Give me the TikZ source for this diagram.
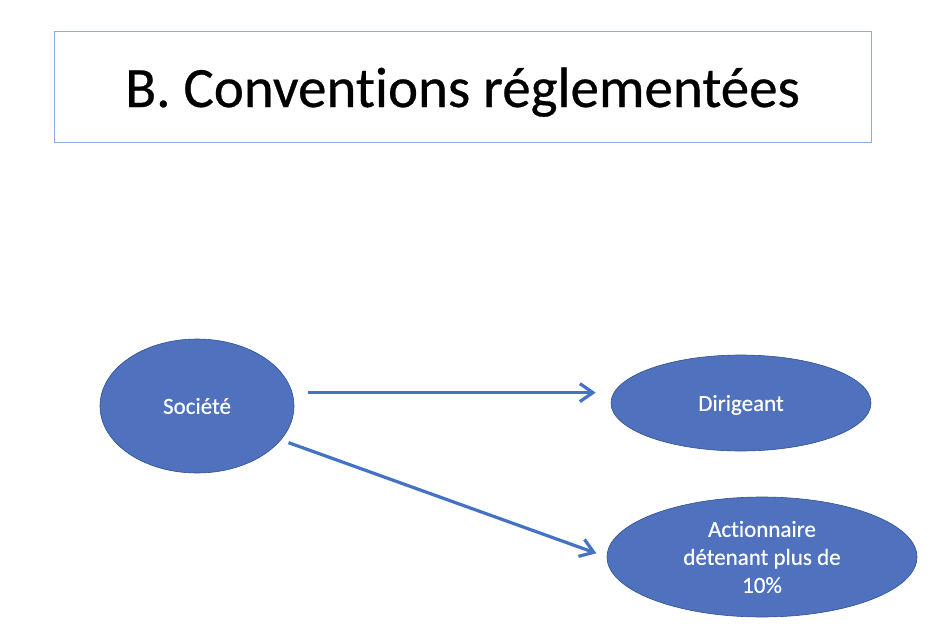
\documentclass[tikz,border=0pt]{standalone}
\usepackage{fontspec}
\setmainfont{Carlito}[Ligatures=NoCommon, Contextuals=NoAlternate, FakeBold=0.5]
\usetikzlibrary{shapes.geometric,arrows.meta}
\definecolor{partyblue}{RGB}{79,113,190}
\definecolor{edgeblue}{RGB}{47,82,143}
\definecolor{linkblue}{RGB}{68,114,196}
\definecolor{framelilac}{RGB}{143,170,220}
\begin{document}
\begin{tikzpicture}[x=1pt, y=-1pt,
    party/.style={ellipse, draw=edgeblue, line width=0.6pt, fill=partyblue, text=white, inner sep=0pt, align=center, font=\fontsize{23}{28}\selectfont},
    link/.style={draw=linkblue, line width=3.2pt, -{Straight Barb[length=13pt,width=18pt]}}]
    \useasboundingbox (0,0) rectangle (935,637);

    \node [draw=framelilac, line width=1pt, inner sep=0pt, minimum width=817pt, minimum height=111pt, text height=41pt, text depth=0pt, font=\fontsize{57}{68}\selectfont] (title) at (462.5,86.5) {B. Conventions réglementées};

    \node [party, minimum width=194pt, minimum height=134pt] (soc) at (197,406) {Société};
    \node [party, minimum width=260pt, minimum height=96pt, text depth=0pt] (dir) at (741,403) {Dirigeant};
    \node [party, minimum width=310pt, minimum height=120pt] (act) at (762,557) {Actionnaire\\détenant plus de\\10\%};

    \draw [link, shorten <=16pt, shorten >=15pt] (soc.8) -- (soc.8 -| dir.west) ;
    \draw [link, shorten <=8pt, shorten >=11pt] (soc.-22) -- (act.west) ;
\end{tikzpicture}
\end{document}
